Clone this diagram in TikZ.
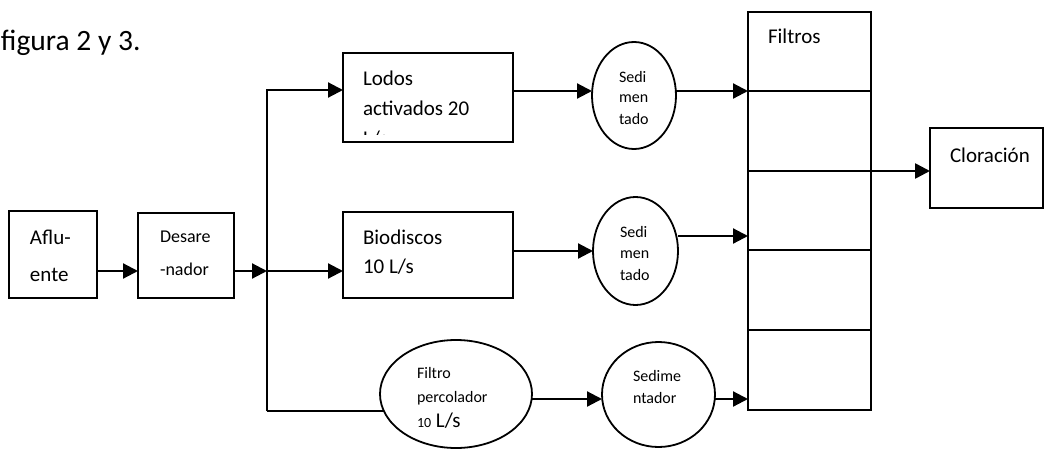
\documentclass[tikz,border=0pt]{standalone}
\usepackage{fontspec}
\setmainfont{Carlito}
\usetikzlibrary{arrows.meta,shapes.geometric}
\begin{document}
\begin{tikzpicture}[x=1pt,y=-1pt,
  box/.style={draw,line width=1.8pt,rectangle,inner sep=0pt,outer sep=0pt},
  oval/.style={draw,line width=1.8pt,ellipse,inner sep=0pt,outer sep=0pt},
  lbl/.style={anchor=base west,inner sep=0pt,outer sep=0pt},
  fbig/.style={font=\fontsize{21}{25}\selectfont},
  fmid/.style={font=\fontsize{18}{22}\selectfont},
  fsml/.style={font=\fontsize{16}{19}\selectfont},
  arr/.style={-{Triangle[length=15pt,width=15pt]},line width=2.2pt},
  plain/.style={line width=1.8pt}]
\useasboundingbox (0,0) rectangle (1045,450);
\clip (0,0) rectangle (1045,450);
\fill[white] (0,0) rectangle (1045,450);

% heading text
\node[lbl,font=\fontsize{29.5}{33}\selectfont] (fig) at (1,50) {figura 2 y 3.};

% boxes
\node[box,minimum width=88pt,minimum height=87pt] (aflu) at (53,254.5) {};
\node[box,minimum width=96pt,minimum height=85pt] (desare) at (186,255.5) {};
\node[box,minimum width=170pt,minimum height=89pt] (lodos) at (428,97.5) {};
\node[box,minimum width=170pt,minimum height=86pt] (bio) at (428,255) {};
\node[oval,minimum width=152pt,minimum height=108pt] (perc) at (456,394) {};
\node[oval,minimum width=84pt,minimum height=107pt] (sedtop) at (634,95.5) {};
\node[oval,minimum width=85pt,minimum height=108pt] (sedmid) at (635.5,251) {};
\node[oval,minimum width=113pt,minimum height=105pt] (sedbot) at (658.5,394.5) {};
\node[box,minimum width=123pt,minimum height=398pt] (filtros) at (809.5,211) {};
\node[box,minimum width=113pt,minimum height=80pt] (clor) at (986.5,168) {};

% filter dividers
\foreach \yy in {91,171,250,330}
  \draw[plain] (filtros.west |- 0,\yy) -- (filtros.east |- 0,\yy);

% labels
\node[lbl,fbig] (t1) at (30,244) {Aflu-};
\node[lbl,fbig] (t2) at (30,281) {ente};
\node[lbl,fmid] (t3) at (160,242) {Desare};
\node[lbl,fmid] (t4) at (160,275) {-nador};
\node[lbl,fbig] (t5) at (363,85) {Lodos};
\node[lbl,fbig] (t6) at (363,115) {activados 20};
\begin{scope}
  \clip (343,53) rectangle (513,134);
  \node[lbl,fbig] (t7) at (363,145) {L/s};
\end{scope}
\node[lbl,fbig] (t8) at (363,244) {Biodiscos};
\node[lbl,fbig] (t9) at (363,273) {10 L/s};
\node[lbl,fsml] (t10) at (417,378) {Filtro};
\node[lbl,fsml] (t11) at (417,402) {percolador};
\node[lbl,fbig] (t12) at (417,427) {{\fontsize{14}{16}\selectfont 10} L/s};
\node[lbl,fsml] (t13) at (619,82) {Sedi};
\node[lbl,fsml] (t14) at (619,102) {men};
\node[lbl,fsml] (t15) at (619,124) {tado};
\node[lbl,fsml] (t16) at (620,237) {Sedi};
\node[lbl,fsml] (t17) at (620,258) {men};
\node[lbl,fsml] (t18) at (620,280) {tado};
\node[lbl,fsml] (t19) at (633,381) {Sedime};
\node[lbl,fsml] (t20) at (633,403) {ntador};
\node[lbl,fbig] (t21) at (768,43) {Filtros};
\node[lbl,fbig] (t22) at (950,162) {Cloración};

% connectors
\coordinate (jt) at (267,90);
\coordinate (j) at (267,271);
\coordinate (jb) at (267,411);
\draw[arr] (jb) -- (jt) -- (lodos.west |- jt);
\draw[line width=1.4pt] (jb) -- (jb -| perc.193);
\draw[arr] (aflu.east |- j) -- (desare.west |- j);
\draw[arr] (desare.east |- j) -- (j);
\draw[arr] (j) -- (bio.west |- j);
\draw[arr] (lodos.east |- 0,91) -- (sedtop.west |- 0,91);
\draw[arr] (sedtop.east |- 0,91) -- (filtros.west |- 0,91);
\draw[arr] (bio.east |- sedmid.west) -- (sedmid.west);
\draw[arr] (sedmid.east |- 0,236) -- (filtros.west |- 0,236);
\draw[arr] (perc.east |- 0,399) -- (sedbot.west |- 0,399);
\draw[arr] (sedbot.east |- 0,399) -- (filtros.west |- 0,399);
\draw[arr,line width=2.6pt] (filtros.west |- 0,171) -- (clor.west |- 0,171);
\end{tikzpicture}
\end{document}
